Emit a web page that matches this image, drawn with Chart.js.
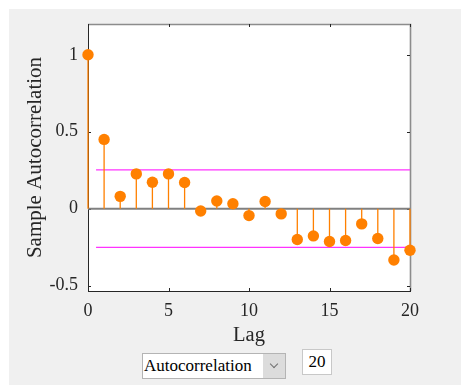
<!DOCTYPE html>
<html>
<head>
<meta charset="utf-8">
<script src="https://cdn.jsdelivr.net/npm/chart.js@4/dist/chart.umd.min.js"></script>
<style>
  html, body { margin: 0; padding: 0; background: #ffffff; }
  #fig { position: absolute; left: 9px; top: 9px; width: 452px; height: 376px; background: #f0f0f0; }
  #plot { position: absolute; left: 0; top: 0; }
  .ctl { position: absolute; box-sizing: border-box; font-family: "Liberation Serif", "Times New Roman", serif; color: #000; }
  #kind { left: 142px; top: 353px; width: 144px; height: 26px; background: #fff; border: 1px solid #b4b4b4; font-size: 17px; line-height: 24px; padding-left: 1px; }
  #kind .btn { position: absolute; right: 0; top: 0; width: 22px; height: 24px; background: #dcdcdc; }
  #kind .chev { position: absolute; left: 8px; top: 7px; width: 5px; height: 5px; border-right: 1px solid #707070; border-bottom: 1px solid #707070; transform: rotate(45deg); }
  #lags { left: 302px; top: 349px; width: 30px; height: 26px; background: #fff; border: 1px solid #c8c8c8; font-size: 17px; line-height: 24px; text-align: center; }
</style>
</head>
<body>
<div id="fig"></div>
<canvas id="plot" width="461" height="385"></canvas>
<div class="ctl" id="kind">Autocorrelation<div class="btn"><div class="chev"></div></div></div>
<div class="ctl" id="lags">20</div>
<script>
// Sample autocorrelation of the series for lags 0..20
const lags = [0, 1, 2, 3, 4, 5, 6, 7, 8, 9, 10, 11, 12, 13, 14, 15, 16, 17, 18, 19, 20];
const acf = [1, 0.45, 0.08, 0.226, 0.172, 0.226, 0.17, -0.015, 0.05, 0.032, -0.045,
             0.047, -0.034, -0.2, -0.177, -0.213, -0.207, -0.099, -0.194, -0.334, -0.27];
// Approximate confidence bounds and the lag span they cover
const confBound = 0.252;
const boundLags = [0.5, 20];
// Axis ticks
const xTicks = [0, 5, 10, 15, 20];
const yTicks = [-0.5, 0, 0.5, 1];

const ORANGE = '#ff8000';
const INK = '#262626';
const SERIF = '"Liberation Serif", "Times New Roman", serif';

// Vertical stems: 0 -> value for each lag, separated by gaps
const stemPoints = [];
lags.forEach((l, i) => {
  stemPoints.push({ x: l, y: 0 }, { x: l, y: acf[i] }, { x: l, y: null });
});

const boxPlugin = {
  id: 'box',
  beforeDraw(chart) {
    const { ctx, chartArea: a } = chart;
    ctx.save();
    ctx.fillStyle = '#ffffff';
    ctx.fillRect(a.left, a.top, a.right - a.left, a.bottom - a.top);
    ctx.restore();
  },
  beforeDatasetsDraw(chart) {
    const { ctx, chartArea: a, scales } = chart;
    ctx.save();
    // top and right frame
    ctx.strokeStyle = '#8c8c8c';
    ctx.lineWidth = 1.6;
    ctx.beginPath();
    ctx.moveTo(a.left, a.top + 0.5);
    ctx.lineTo(a.right + 0.5, a.top + 0.5);
    ctx.lineTo(a.right + 0.5, a.bottom);
    ctx.stroke();
    // inward tick marks
    ctx.strokeStyle = INK;
    ctx.lineWidth = 1;
    ctx.beginPath();
    xTicks.forEach(v => {
      const px = Math.round(scales.x.getPixelForValue(v)) + 0.5;
      ctx.moveTo(px, a.bottom); ctx.lineTo(px, a.bottom - 3);
      ctx.moveTo(px, a.top); ctx.lineTo(px, a.top + 3);
    });
    yTicks.forEach(v => {
      const py = Math.round(scales.y.getPixelForValue(v)) + 0.5;
      ctx.moveTo(a.left, py); ctx.lineTo(a.left + 3, py);
      ctx.moveTo(a.right, py); ctx.lineTo(a.right - 3, py);
    });
    ctx.stroke();
    ctx.restore();
  }
};

new Chart(document.getElementById('plot'), {
  type: 'scatter',
  data: {
    datasets: [
      {
        label: 'zero',
        data: [{ x: 0, y: 0 }, { x: 20, y: 0 }],
        showLine: true,
        borderColor: '#808080',
        borderWidth: 2,
        pointRadius: 0,
        order: 4
      },
      {
        label: 'upper bound',
        data: boundLags.map(x => ({ x, y: confBound })),
        showLine: true,
        borderColor: '#ff33ff',
        borderWidth: 1.2,
        pointRadius: 0,
        order: 3
      },
      {
        label: 'lower bound',
        data: boundLags.map(x => ({ x, y: -confBound })),
        showLine: true,
        borderColor: '#ff33ff',
        borderWidth: 1.2,
        pointRadius: 0,
        order: 3
      },
      {
        label: 'stems',
        data: stemPoints,
        showLine: true,
        spanGaps: false,
        borderColor: ORANGE,
        borderWidth: 1.3,
        pointRadius: 0,
        clip: false,
        order: 2
      },
      {
        label: 'ACF',
        data: lags.map((l, i) => ({ x: l, y: acf[i] })),
        pointRadius: 5.7,
        pointHoverRadius: 5.7,
        pointBackgroundColor: ORANGE,
        pointBorderWidth: 0,
        clip: false,
        order: 1
      }
    ]
  },
  options: {
    responsive: false,
    animation: false,
    events: [],
    layout: { padding: { left: 0, top: 24, right: 51, bottom: 34 } },
    plugins: { legend: { display: false }, tooltip: { enabled: false } },
    scales: {
      x: {
        type: 'linear',
        min: 0,
        max: 20,
        afterBuildTicks: s => { s.ticks = xTicks.map(v => ({ value: v })); },
        afterFit: s => { s.height = 60; },
        grid: { display: false, drawTicks: false },
        border: { display: true, color: INK, width: 1 },
        ticks: {
          padding: 9,
          color: INK,
          maxRotation: 0,
          autoSkip: false,
          font: { family: SERIF, size: 18 },
          callback: v => String(v)
        },
        title: {
          display: true,
          text: 'Lag',
          color: INK,
          font: { family: SERIF, size: 20.5 },
          padding: { top: 0, bottom: 3 }
        }
      },
      y: {
        type: 'linear',
        min: -0.535,
        max: 1.2,
        afterBuildTicks: s => { s.ticks = yTicks.map(v => ({ value: v })); },
        afterFit: s => { s.width = 88; },
        grid: { display: false, drawTicks: false },
        border: { display: true, color: INK, width: 1 },
        ticks: {
          padding: 10,
          color: INK,
          font: { family: SERIF, size: 18 },
          callback: v => String(v)
        },
        title: {
          display: true,
          text: 'Sample Autocorrelation',
          color: INK,
          font: { family: SERIF, size: 21 },
          padding: { top: 23, bottom: 0 }
        }
      }
    }
  },
  plugins: [boxPlugin]
});
</script>
</body>
</html>
